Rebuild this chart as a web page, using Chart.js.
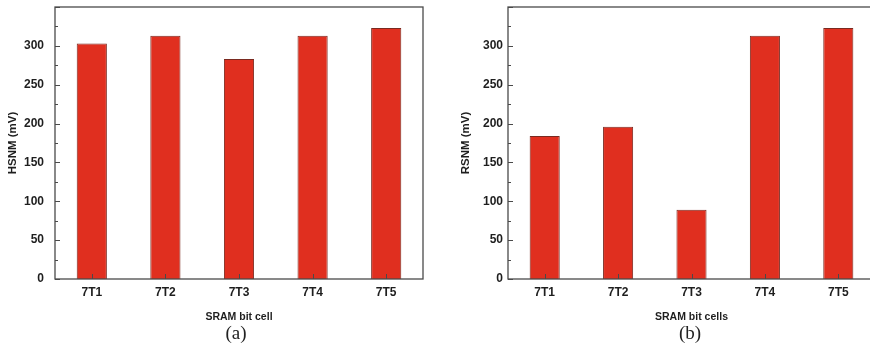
<!DOCTYPE html>
<html>
<head>
<meta charset="utf-8">
<script src="https://cdn.jsdelivr.net/npm/chart.js@4.4.1/dist/chart.umd.min.js"></script>
<style>
  html, body { margin: 0; padding: 0; background: #fff; overflow: hidden; }
  #wrap { position: relative; width: 870px; height: 363px; overflow: hidden; }
  canvas { position: absolute; top: 0; }
  #chartA { left: 0; }
  #chartB { left: 435px; }
  .caption {
    position: absolute; top: 322px; width: 60px; text-align: center;
    font-family: "Liberation Serif", "Times New Roman", serif; font-size: 19px; color: #222;
  }
</style>
</head>
<body>
<div id="wrap">
  <canvas id="chartA" width="435" height="363"></canvas>
  <canvas id="chartB" width="445" height="363"></canvas>
  <div class="caption" style="left:206px">(a)</div>
  <div class="caption" style="left:660px">(b)</div>
</div>
<script>
// === Data ===
const cells = ['7T1', '7T2', '7T3', '7T4', '7T5'];
const hsnm = [303, 313, 283, 313, 323];
const rsnm = [184, 196, 89, 313, 323];
const yMax = 350;
const yStep = 50;
const yMinorStep = 25;

const barColor = '#e02f1f';
const barEdge = '#7a2a20';
const frameColor = '#4a4a4a';
const textColor = '#1e1e1e';
const sansFont = '"Liberation Sans", Arial, sans-serif';

// frame + inside ticks, Origin style
const frameTicks = {
  id: 'frameTicks',
  afterDraw(chart) {
    const { ctx, chartArea: a, scales } = chart;
    ctx.save();
    ctx.strokeStyle = frameColor;
    ctx.lineWidth = 1.3;
    ctx.strokeRect(a.left, a.top, a.right - a.left, a.bottom - a.top);

    ctx.lineWidth = 1;
    ctx.beginPath();
    cells.forEach((c, i) => {
      const x = Math.round(scales.x.getPixelForTick(i)) + 0.5;
      ctx.moveTo(x, a.bottom);
      ctx.lineTo(x, a.bottom - 5);
    });
    for (let v = 0; v <= yMax; v += yMinorStep) {
      const y = Math.round(scales.y.getPixelForValue(v)) + 0.5;
      const len = v % yStep === 0 ? 5 : 3;
      ctx.moveTo(a.left, y);
      ctx.lineTo(a.left + len, y);
    }
    ctx.stroke();
    ctx.restore();
  }
};

function makeChart(canvasId, values, yTitle, xTitle, opts) {
  return new Chart(document.getElementById(canvasId), {
    type: 'bar',
    data: {
      labels: cells,
      datasets: [{
        data: values,
        backgroundColor: barColor,
        borderColor: barEdge,
        borderWidth: 1,
        barPercentage: 0.41,
        categoryPercentage: 1
      }]
    },
    options: {
      responsive: false,
      animation: false,
      layout: { padding: { top: 7, right: opts.padRight, left: 0, bottom: 0 } },
      plugins: { legend: { display: false }, tooltip: { enabled: false } },
      scales: {
        x: {
          grid: { display: false, drawTicks: false },
          border: { display: false },
          ticks: {
            color: textColor, padding: 6,
            font: { family: sansFont, size: 12, weight: 'bold' }
          },
          title: {
            display: true, text: xTitle, color: textColor,
            font: { family: sansFont, size: 10.5, weight: 'bold' },
            padding: { top: 0, bottom: 40 }
          },
          afterFit(scale) {
            scale.height = 84;
            scale.paddingLeft = 0;
            scale.paddingRight = 0;
          }
        },
        y: {
          min: 0,
          max: yMax,
          grid: { display: false, drawTicks: false },
          border: { display: false },
          ticks: {
            stepSize: yStep, color: textColor, padding: opts.tickPad,
            font: { family: sansFont, size: 12, weight: 'bold' },
            callback: v => (v >= yMax ? '' : v)
          },
          title: {
            display: true, text: yTitle, color: textColor,
            font: { family: sansFont, size: 11.5, weight: 'bold' },
            padding: { top: opts.titlePad, bottom: 0 }
          },
          afterFit(scale) {
            scale.width = opts.yWidth;
            scale.paddingTop = 0;
            scale.paddingBottom = 0;
          }
        }
      }
    },
    plugins: [frameTicks]
  });
}

makeChart('chartA', hsnm, 'HSNM (mV)', 'SRAM bit cell',
  { yWidth: 55, padRight: 12, tickPad: 11, titlePad: 6 });
makeChart('chartB', rsnm, 'RSNM (mV)', 'SRAM bit cells',
  { yWidth: 73, padRight: 5, tickPad: 5, titlePad: 24 });
</script>
</body>
</html>
